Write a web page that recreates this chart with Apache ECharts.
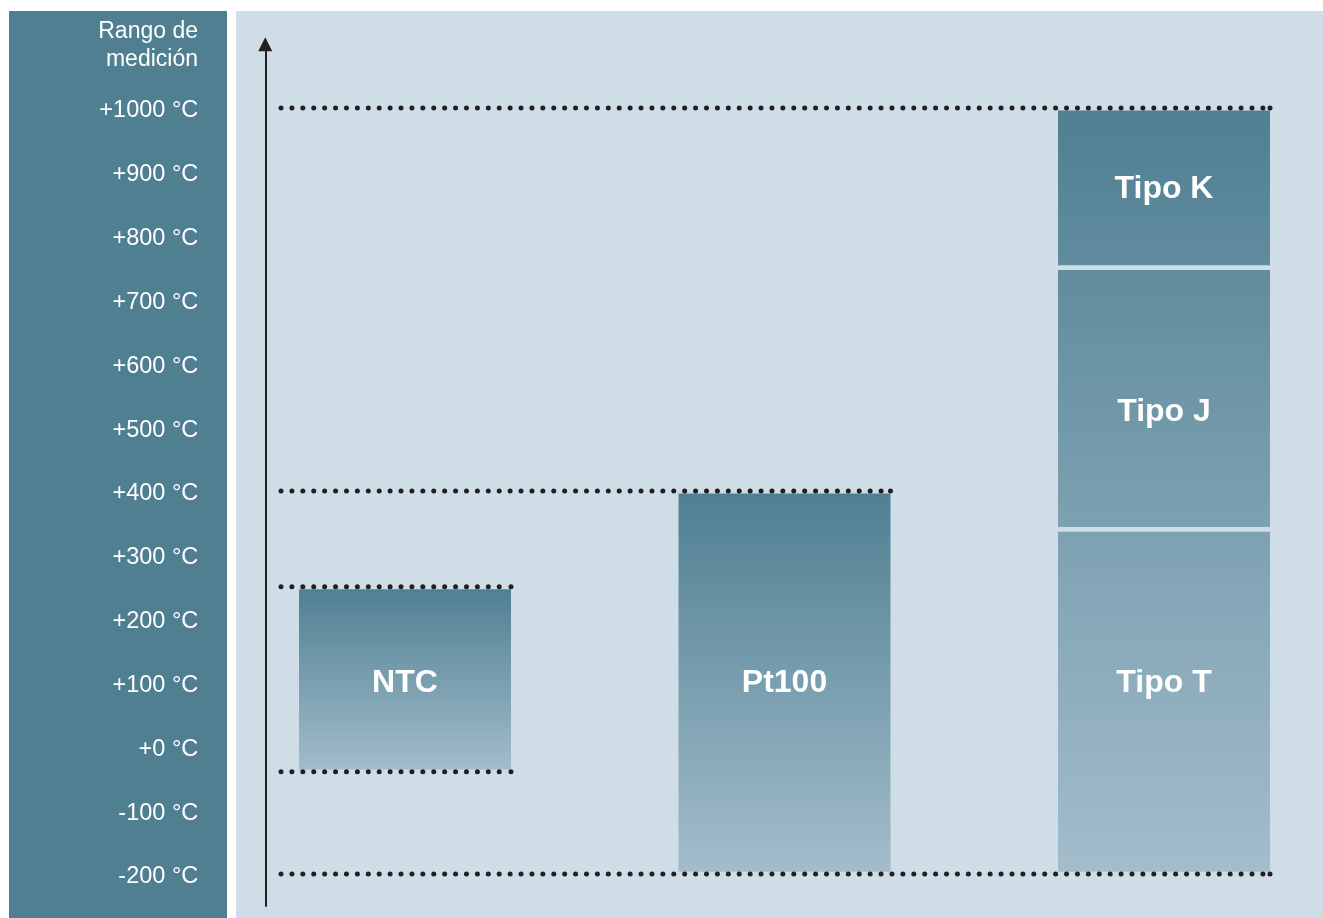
<!DOCTYPE html>
<html>
<head>
<meta charset="utf-8">
<script src="https://cdn.jsdelivr.net/npm/echarts@6/dist/echarts.min.js"></script>
<style>
  html, body { margin: 0; padding: 0; background: #ffffff; }
  #chart { width: 1323px; height: 918px; }
</style>
</head>
<body>
<div id="chart"></div>
<script>
// ---- data ----
const categories = ['NTC', 'Pt100', 'Termopar'];
const segNames = ['NTC', 'Pt100', 'Tipo T', 'Tipo J', 'Tipo K'];
const segCategory = [0, 1, 2, 2, 2];
const segLow = [-40, -200, -200, 340, 750];
const segHigh = [250, 400, 340, 750, 1000];
const segLabelAt = [100, 100, 100, 525, 875];
const refLevels = [1000, 400, 250, -40, -200];
const refLevelTo = [2, 1, 0, 0, 2];
const tickMin = -200;
const tickMax = 1000;
const axisTitle = 'Rango de\nmedición';

// ---- derived ----
const groupLow = categories.map((c, i) => Math.min(...segLow.filter((v, k) => segCategory[k] === i)));
const groupHigh = categories.map((c, i) => Math.max(...segHigh.filter((v, k) => segCategory[k] === i)));
const barData = segNames.map((n, k) => [segCategory[k], segLow[k], segHigh[k], groupLow[segCategory[k]], groupHigh[segCategory[k]], segLabelAt[k]]);
const lineData = refLevels.map((v, k) => [refLevelTo[k], v]);

const FONT = '"Liberation Sans", Arial, Helvetica, sans-serif';
const BAR_RATIO = 0.5586;
const DARK = '#4f7f92';
const LIGHT = '#a3bdcb';
const DOT = '#231f20';

const chart = echarts.init(document.getElementById('chart'), null, { renderer: 'canvas' });

function renderBar(params, api) {
  const cat = api.value(0), low = api.value(1), high = api.value(2);
  const gLow = api.value(3), gHigh = api.value(4), labelAt = api.value(5);
  const bw = api.size([1, 0])[0] * BAR_RATIO;
  const pTop = api.coord([cat, high]);
  const pBot = api.coord([cat, low]);
  const gTop = api.coord([cat, gHigh])[1];
  const gBot = api.coord([cat, gLow])[1];
  const pLab = api.coord([cat, labelAt]);
  const y1 = pTop[1] + 2.5;
  const y2 = pBot[1] - 2.3;
  return {
    type: 'group',
    children: [
      {
        type: 'rect',
        shape: { x: pTop[0] - bw / 2, y: y1, width: bw, height: y2 - y1 },
        style: {
          fill: new echarts.graphic.LinearGradient(0, gTop, 0, gBot, [
            { offset: 0, color: DARK },
            { offset: 1, color: LIGHT }
          ], true)
        }
      },
      {
        type: 'text',
        x: pLab[0], y: pLab[1] + 1,
        style: {
          text: segNames[params.dataIndex],
          fill: '#ffffff',
          font: 'bold 32px ' + FONT,
          align: 'center',
          verticalAlign: 'middle'
        }
      }
    ]
  };
}

function renderLine(params, api) {
  const to = api.value(0), v = api.value(1);
  const bw = api.size([1, 0])[0] * BAR_RATIO;
  const start = api.coord([0, v]);
  const end = api.coord([to, v]);
  const x1 = start[0] - bw / 2 - 18;
  const x2 = end[0] + bw / 2;
  return {
    type: 'group',
    children: [
      {
        type: 'line',
        shape: { x1: x1, y1: start[1], x2: x2 - 4, y2: end[1] },
        style: { stroke: DOT, lineWidth: 5, lineCap: 'round', lineDash: [0.01, 10.9] }
      },
      {
        type: 'circle',
        shape: { cx: x2, cy: end[1], r: 2.5 },
        style: { fill: DOT }
      }
    ]
  };
}

const option = {
  animation: false,
  backgroundColor: '#ffffff',
  graphic: {
    elements: [
      { type: 'rect', z: -10, shape: { x: 9, y: 11, width: 218, height: 907 }, style: { fill: '#4f7f91' } },
      { type: 'rect', z: -10, shape: { x: 236, y: 11, width: 1087, height: 907 }, style: { fill: '#cfdde6' } },
      {
        type: 'text', z: 10, x: 198, y: 18,
        style: { text: axisTitle, fill: '#ffffff', font: '23px ' + FONT, align: 'right', verticalAlign: 'top', lineHeight: 28 }
      }
    ]
  },
  grid: { left: 215.25, right: -30.75, top: 44.17, bottom: 12.08, outerBoundsMode: 'none', containLabel: false },
  xAxis: {
    type: 'category',
    data: categories,
    show: false
  },
  yAxis: {
    type: 'value',
    min: -250,
    max: 1100,
    interval: 50,
    offset: -50,
    z: 5,
    axisLine: {
      show: true,
      symbol: ['none', 'triangle'],
      symbolSize: [14, 14],
      lineStyle: { color: DOT, width: 2 }
    },
    axisTick: { show: false },
    splitLine: { show: false },
    axisLabel: {
      margin: 67,
      color: '#ffffff',
      fontSize: 23.5,
      fontFamily: FONT,
      formatter: function (v) {
        if (v % 100 !== 0 || v < tickMin || v > tickMax) return '';
        return '{t|' + (v >= 0 ? '+' : '') + v + ' °C}';
      },
      rich: {
        t: { color: '#ffffff', fontSize: 23.5, fontFamily: FONT, padding: [6, 0, 0, 0] }
      }
    }
  },
  series: [
    {
      type: 'custom',
      z: 2,
      renderItem: renderBar,
      data: barData,
      encode: { x: 0, y: [1, 2] }
    },
    {
      type: 'custom',
      z: 3,
      renderItem: renderLine,
      data: lineData,
      encode: { x: 0, y: 1 }
    }
  ]
};

chart.setOption(option);
</script>
</body>
</html>
